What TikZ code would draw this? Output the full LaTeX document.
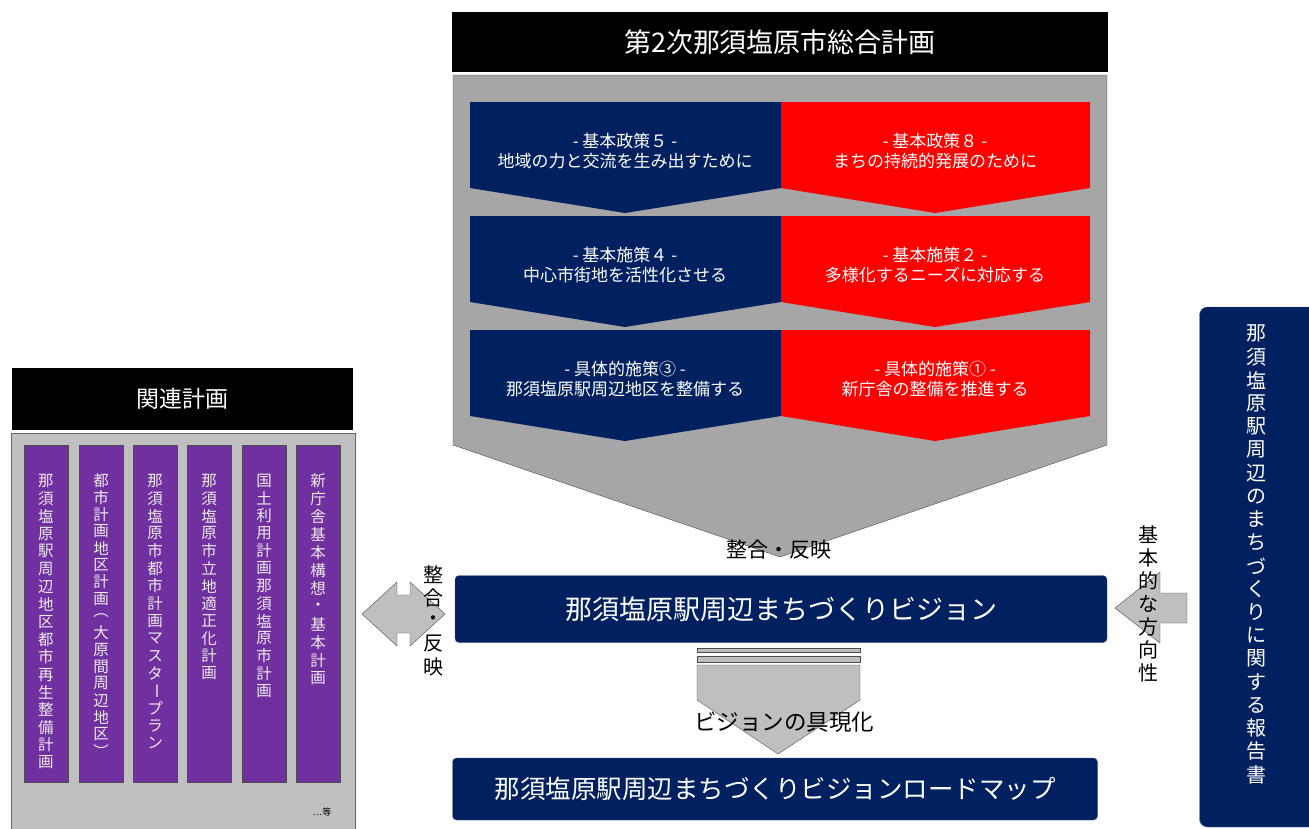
\documentclass[tikz,border=0pt]{standalone}
\usepackage{fontspec}
\usepackage{graphicx}
\usepackage{tikz}
\usetikzlibrary{positioning}
\newfontfamily\jp{Noto Sans CJK JP}
\definecolor{navy}{RGB}{0,32,96}
\definecolor{planred}{RGB}{255,0,0}
\definecolor{planpurple}{RGB}{112,48,160}
\definecolor{panelgray}{RGB}{192,192,192}
\definecolor{chevgray}{RGB}{166,166,166}
\definecolor{arrowgray}{RGB}{191,191,191}
% 縦書き: 一文字ずつ積む
\ExplSyntaxOn
\tl_new:N \l_vstack_tl
\NewDocumentCommand\vstack{mm}{
	\tl_set:No \l_vstack_tl {#2}
	\vbox{\offinterlineskip
		\tl_map_inline:Nn \l_vstack_tl {\hbox_to_wd:nn {1.2em} {\hss\vbox_to_ht:nn {#1} {\vss\hbox:n {##1}\vss}\hss}}}
}
\ExplSyntaxOff
\newcommand\vbar{\rotatebox[origin=c]{-90}{ー}}
\tikzset{
	titlebar/.style={fill=black, text=white, inner sep=0pt, font=\jp\fontsize{27}{30}\selectfont},
	boxtext/.style={text=white, align=center, inner sep=0pt, font=\jp\fontsize{17}{20.5}\selectfont},
	navybox/.style={fill=navy, draw=navy!70!white, rounded corners=4pt, text=white, inner sep=0pt},
	column/.style={fill=planpurple, draw=black!70, minimum width=44pt, minimum height=337pt, inner sep=0pt},
	vlabel/.style={anchor=north, inner sep=0pt},
	blacktext/.style={text=black, inner sep=0pt}
}
\begin{document}
\begin{tikzpicture}[x=1pt, y=-1pt]
	\useasboundingbox (0,0) rectangle (1309,828);
	% 総合計画
	\node [titlebar, minimum width=656pt, minimum height=60pt] (sogo) at (780,42) {第2次那須塩原市総合計画};
	\draw [fill=chevgray, draw=black!70] (453,75) -- (1107,75) -- (1107,445) -- (780,557) -- (453,445) -- cycle;
	\foreach \y/\a/\b/\c/\d in {
		102/基本政策５/地域の力と交流を生み出すために/基本政策８/まちの持続的発展のために,
		216/基本施策４/中心市街地を活性化させる/基本施策２/多様化するニーズに対応する,
		330/具体的施策③/那須塩原駅周辺地区を整備する/具体的施策①/新庁舎の整備を推進する} {
		\fill [navy] (470,\y) -- (781,\y) -- (781,\y+86) -- (625,\y+111) -- (470,\y+86) -- cycle;
		\fill [planred] (781,\y) -- (1090,\y) -- (1090,\y+86) -- (935,\y+111) -- (781,\y+86) -- cycle;
		\node [boxtext] (l\y) at (625,\y+49) {- \a{} -\\\b};
		\node [boxtext] (r\y) at (935,\y+49) {- \c{} -\\\d};
	}
	\node [blacktext, font=\jp\fontsize{21}{24}\selectfont] (seigo) at (779,550) {整合・反映};
	% ビジョン
	\node [navybox, minimum width=652pt, minimum height=67pt, font=\jp\fontsize{27}{30}\selectfont] (vision) at (781,609) {那須塩原駅周辺まちづくりビジョン};
	\draw [fill=arrowgray, draw=black!70] (697,648) rectangle (860,652);
	\draw [fill=arrowgray, draw=black!70] (697,656) rectangle (860,662);
	\draw [fill=arrowgray, draw=black!70] (697,665) -- (860,665) -- (860,700) -- (778,754) -- (697,700) -- cycle;
	\node [blacktext, font=\jp\fontsize{22.5}{26}\selectfont] (gugen) at (784,722) {ビジョンの具現化};
	\node [navybox, minimum width=645pt, minimum height=62pt, font=\jp\fontsize{25.5}{28}\selectfont] (roadmap) at (775,789) {那須塩原駅周辺まちづくりビジョンロードマップ};
	% 関連計画
	\node [titlebar, minimum width=341pt, minimum height=62pt, font=\jp\fontsize{23}{26}\selectfont] (kanren) at (182,399) {関連計画};
	\draw [fill=panelgray, draw=black!60] (11,433) rectangle (355,834);
	\foreach \x/\p/\t [count=\i] in {46/17.6/那須塩原駅周辺地区都市再生整備計画, 101/16.9/都市計画地区計画︵大原間周辺地区︶, 155/17.5/那須塩原市都市計画マスタ\vbar プラン, 209/17.5/那須塩原市立地適正化計画, 264/17.5/国土利用計画那須塩原市計画, 318/17.9/新庁舎基本構想・基本計画} {
		\node [column] (c\i) at (\x,614) {};
		\node [vlabel, text=white!92!black, font=\jp\fontsize{15.5}{18}\selectfont] (t\i) at (\x,472) {\vstack{\p pt}{\t}};
	}
	\node [blacktext, font=\jp\fontsize{9}{10}\selectfont] (nado) at (322,812) {…等};
	% 整合・反映 (左)
	\draw [fill=arrowgray, draw=black!70] (362,614) -- (397,582) -- (397,595) -- (410,595) -- (410,582) -- (445,614) -- (410,646) -- (410,633) -- (397,633) -- (397,646) -- cycle;
	\node [vlabel, text=black, font=\jp\fontsize{20}{22}\selectfont] (hanei) at (433,563) {\vstack{23pt}{整合・反映}};
	% 報告書
	\node [navybox, rounded corners=8pt, minimum width=125pt, minimum height=520pt] (report) at (1262,567) {};
	\node [vlabel, text=white, font=\jp\fontsize{20}{22}\selectfont] (reporttext) at (1256,322) {\vstack{23.2pt}{那須塩原駅周辺のまちづくりに関する報告書}};
	\draw [fill=arrowgray, draw=black!70] (1115,608) -- (1160,572) -- (1160,593) -- (1187,593) -- (1187,623) -- (1160,623) -- (1160,643) -- cycle;
	\node [vlabel, text=black, font=\jp\fontsize{20}{22}\selectfont] (hoko) at (1148,523) {\vstack{23pt}{基本的な方向性}};
\end{tikzpicture}
\end{document}
